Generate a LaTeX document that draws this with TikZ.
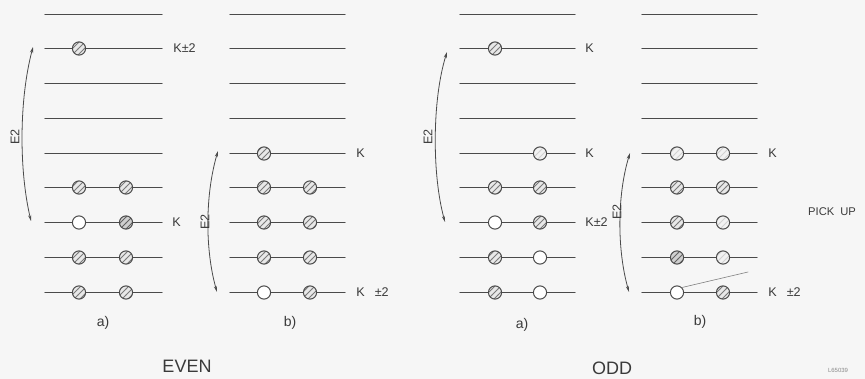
\documentclass[tikz,border=0pt]{standalone}
\usepackage{fontspec}
\setmainfont{Liberation Sans}
\usetikzlibrary{arrows.meta,patterns}
\definecolor{lvlPaper}{HTML}{F6F6F6}
\definecolor{lvlInk}{HTML}{4A4A4A}
\definecolor{lvlText}{HTML}{3A3A3A}
\definecolor{lvlHatch}{HTML}{7A7A7A}
\tikzset{
  level/.style={lvlInk, line width=0.6pt},
  occ/.style={circle, draw=lvlInk, line width=0.5pt, minimum size=6.6pt, inner sep=0pt,
    preaction={fill=gray!18}, pattern=north east lines, pattern color=lvlHatch},
  occdark/.style={occ, preaction={fill=gray!38}, pattern color=lvlHatch!80!black},
  occlight/.style={occ, preaction={fill=gray!10}, pattern color=gray!35},
  hole/.style={circle, draw=lvlInk, line width=0.5pt, minimum size=6.6pt, inner sep=0pt, fill=white},
  klabel/.style={font=\fontsize{6.3}{7}\selectfont, lvlText, anchor=west, inner sep=0pt},
  sublabel/.style={font=\fontsize{7}{8}\selectfont, lvlText},
  e2arrow/.style={lvlInk, line width=0.4pt, {Stealth[length=3pt,width=1.6pt]}-{Stealth[length=3pt,width=1.6pt]}},
}
\begin{document}
\begin{tikzpicture}[x=0.5pt, y=-0.5pt, line cap=round, line join=round]
  \useasboundingbox (0,0) rectangle (865,379);
  \fill[lvlPaper] (0,0) rectangle (865,379);

  % Level lines of the four schemes
  \foreach \xl/\xr in {45/162, 230/345, 460/575, 642/757} {
    \foreach \ly in {14.5,48.5,83.5,118.5,153.5,187.5,222.5,257.5,292.5} {
      \draw[level] (\xl,\ly) -- (\xr,\ly);
    }
  }

  % ---- EVEN a) ----
  \node[occ] (ea2l) at (79,48.5) {};
  \node[occ] (ea6l) at (79,187.5) {};
  \node[occ] (ea6r) at (126,187.5) {};
  \node[hole] (ea7l) at (79,222.5) {};
  \node[occdark] (ea7r) at (126,222.5) {};
  \node[occ] (ea8l) at (79,257.5) {};
  \node[occ] (ea8r) at (126,257.5) {};
  \node[occ] (ea9l) at (79,292.5) {};
  \node[occ] (ea9r) at (126,292.5) {};
  \node[klabel] (eaK2) at (173,48.5) {K±2};
  \node[klabel] (eaK) at (172,222.5) {K};
  \coordinate (eaTop) at (33,47);
  \coordinate (eaBot) at (31,221);
  \draw[e2arrow] (eaTop) .. controls (19,100) and (19,170) .. (eaBot);
  \node[klabel, anchor=center, rotate=90] (eaE2) at (15,137) {E2};
  \node[sublabel] (eaSub) at (103,323) {a)};

  % ---- EVEN b) ----
  \node[occ] (eb5l) at (264,153.5) {};
  \foreach \ly/\nm in {187.5/6, 222.5/7, 257.5/8} {
    \node[occ] (eb\nm l) at (264,\ly) {};
    \node[occ] (eb\nm r) at (310,\ly) {};
  }
  \node[hole] (eb9l) at (264,292.5) {};
  \node[occ] (eb9r) at (310,292.5) {};
  \node[klabel] (ebK) at (356,153.5) {K};
  \node[klabel] (ebK2) at (356,292.5) {K\hspace{5pt}±2};
  \coordinate (ebTop) at (218,151);
  \coordinate (ebBot) at (217,292);
  \draw[e2arrow] (ebTop) .. controls (205,195) and (205,250) .. (ebBot);
  \node[klabel, anchor=center, rotate=90] (ebE2) at (205,222) {E2};
  \node[sublabel] (ebSub) at (290,323) {b)};

  \node[font=\fontsize{9}{10}\selectfont, lvlText] (even) at (187,366) {EVEN};

  % ---- ODD a) ----
  \node[occ] (oa2l) at (495,48.5) {};
  \node[occlight] (oa5r) at (540,153.5) {};
  \node[occ] (oa6l) at (495,187.5) {};
  \node[occ] (oa6r) at (540,187.5) {};
  \node[hole] (oa7l) at (495,222.5) {};
  \node[occ] (oa7r) at (540,222.5) {};
  \node[occ] (oa8l) at (495,257.5) {};
  \node[hole] (oa8r) at (540,257.5) {};
  \node[occ] (oa9l) at (495,292.5) {};
  \node[hole] (oa9r) at (540,292.5) {};
  \node[klabel] (oaK) at (585,48.5) {K};
  \node[klabel] (oaK5) at (585,153.5) {K};
  \node[klabel] (oaK2) at (585,222.5) {K±2};
  \coordinate (oaTop) at (447,52);
  \coordinate (oaBot) at (445,222);
  \draw[e2arrow] (oaTop) .. controls (432,100) and (432,175) .. (oaBot);
  \node[klabel, anchor=center, rotate=90] (oaE2) at (428,137) {E2};
  \node[sublabel] (oaSub) at (522,325) {a)};

  % ---- ODD b) ----
  \node[occlight] (ob5l) at (677,153.5) {};
  \node[occlight] (ob5r) at (723,153.5) {};
  \node[occ] (ob6l) at (677,187.5) {};
  \node[occ] (ob6r) at (723,187.5) {};
  \node[occ] (ob7l) at (677,222.5) {};
  \node[occlight] (ob7r) at (723,222.5) {};
  \node[occdark] (ob8l) at (677,257.5) {};
  \node[occlight] (ob8r) at (723,257.5) {};
  \node[hole] (ob9l) at (677,292.5) {};
  \node[occ] (ob9r) at (723,292.5) {};
  \node[klabel] (obK) at (768,153.5) {K};
  \node[klabel] (obK2) at (768,292.5) {K\hspace{5pt}±2};
  \coordinate (obTop) at (630,153);
  \coordinate (obBot) at (629,292);
  \draw[e2arrow] (obTop) .. controls (617,195) and (617,250) .. (obBot);
  \node[klabel, anchor=center, rotate=90] (obE2) at (617,212) {E2};
  \node[sublabel] (obSub) at (700,322) {b)};

  % Pick-up line
  \coordinate (pickEnd) at (748,272);
  \draw[lvlInk!70, line width=0.3pt] (ob9l.north east) -- (pickEnd);
  \node[font=\fontsize{5.6}{6}\selectfont, lvlText] (pick) at (832,212) {PICK\hspace{3pt}UP};

  \node[font=\fontsize{9}{10}\selectfont, lvlText] (odd) at (612,368) {ODD};
  \node[font=\fontsize{3}{3.5}\selectfont, lvlText!60] (ref) at (838,370) {L65039};
\end{tikzpicture}
\end{document}
